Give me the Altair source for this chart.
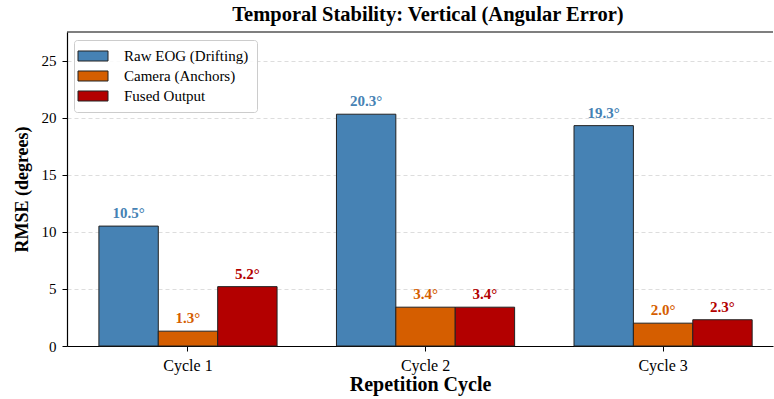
import altair as alt
import pandas as pd

# Chart values
cycles = ["Cycle 1", "Cycle 2", "Cycle 3"]
series = ["Raw EOG (Drifting)", "Camera (Anchors)", "Fused Output"]
raw_eog = [10.5, 20.3, 19.3]
camera = [1.3, 3.4, 2.0]
fused = [5.2, 3.4, 2.3]
colors = ["#4682B4", "#D55E00", "#B30000"]
y_ticks = [0, 5, 10, 15, 20, 25]

rows = []
for name, vals in zip(series, [raw_eog, camera, fused]):
    for c, v in zip(cycles, vals):
        rows.append({"cycle": c, "series": name, "rmse": v, "label": f"{v:.1f}°"})
df = pd.DataFrame(rows)

FONT = "Liberation Serif"
W, H = 706, 314

x_enc = alt.X(
    "cycle:N",
    sort=cycles,
    title="Repetition Cycle",
    scale=alt.Scale(paddingInner=0.25, paddingOuter=0.111, align=0.605),
    axis=alt.Axis(labelAngle=0, grid=False, tickSize=5, labelPadding=6,
                  labelFontSize=16, titleFontSize=20, titlePadding=1),
)
xo_enc = alt.XOffset("series:N", sort=series,
                     scale=alt.Scale(paddingInner=0, paddingOuter=0))
y_enc = alt.Y(
    "rmse:Q",
    title="RMSE (degrees)",
    scale=alt.Scale(domain=[0, 27.5], nice=False, zero=True),
    axis=alt.Axis(values=y_ticks, grid=True, gridDash=[4, 3],
                  gridColor="#d4d4d4", gridWidth=0.8, tickSize=5,
                  labelFontSize=15, titleFontSize=18,
                  labelPadding=6, titlePadding=10),
)
color_scale = alt.Scale(domain=series, range=colors)

bars = alt.Chart().mark_bar(stroke="#222222", strokeWidth=1, opacity=1).encode(
    x=x_enc,
    xOffset=xo_enc,
    y=y_enc,
    color=alt.Color(
        "series:N",
        sort=series,
        scale=color_scale,
        legend=alt.Legend(
            title=None,
            orient="none",
            legendX=7,
            legendY=8,
            symbolType="M-2,-0.667H2V0.667H-2Z",
            symbolSize=225,
            symbolStrokeColor="#222222",
            symbolStrokeWidth=1,
            symbolOpacity=1,
            symbolOffset=3,
            labelFont=FONT,
            labelFontSize=15,
            labelColor="black",
            labelOffset=23,
            rowPadding=4,
            padding=8,
            strokeColor="#cccccc",
            fillColor="rgba(255,255,255,0.85)",
            cornerRadius=3,
        ),
    ),
)

labels = alt.Chart().mark_text(
    font=FONT, fontSize=15, fontWeight="bold", dy=-8, baseline="alphabetic"
).encode(
    x=x_enc,
    xOffset=xo_enc,
    y=y_enc,
    text="label:N",
    color=alt.Color("series:N", sort=series, scale=color_scale, legend=None),
)

top_edge = alt.Chart(alt.Data(values=[{}])).mark_rule(
    color="black", strokeWidth=1.2
).encode(y=alt.value(0), x=alt.value(0), x2=alt.value(W))

chart = alt.layer(bars, labels, top_edge, data=df).properties(
    width=W,
    height=H,
    title=alt.TitleParams(
        "Temporal Stability: Vertical (Angular Error)",
        font=FONT, fontSize=20.5, fontWeight="bold", color="black",
        anchor="middle", offset=6, dx=8,
    ),
    autosize=alt.AutoSizeParams(type="none"),
    padding={"left": 67, "top": 32, "right": 1, "bottom": 53},
).configure_view(stroke=None).configure_axis(
    labelFont=FONT, titleFont=FONT,
    titleFontWeight="bold", labelColor="black", titleColor="black",
    domainColor="black", domainWidth=1.2, tickColor="black", tickWidth=1,
)

chart.save("out.html", embed_options={"renderer": "svg", "actions": False})
